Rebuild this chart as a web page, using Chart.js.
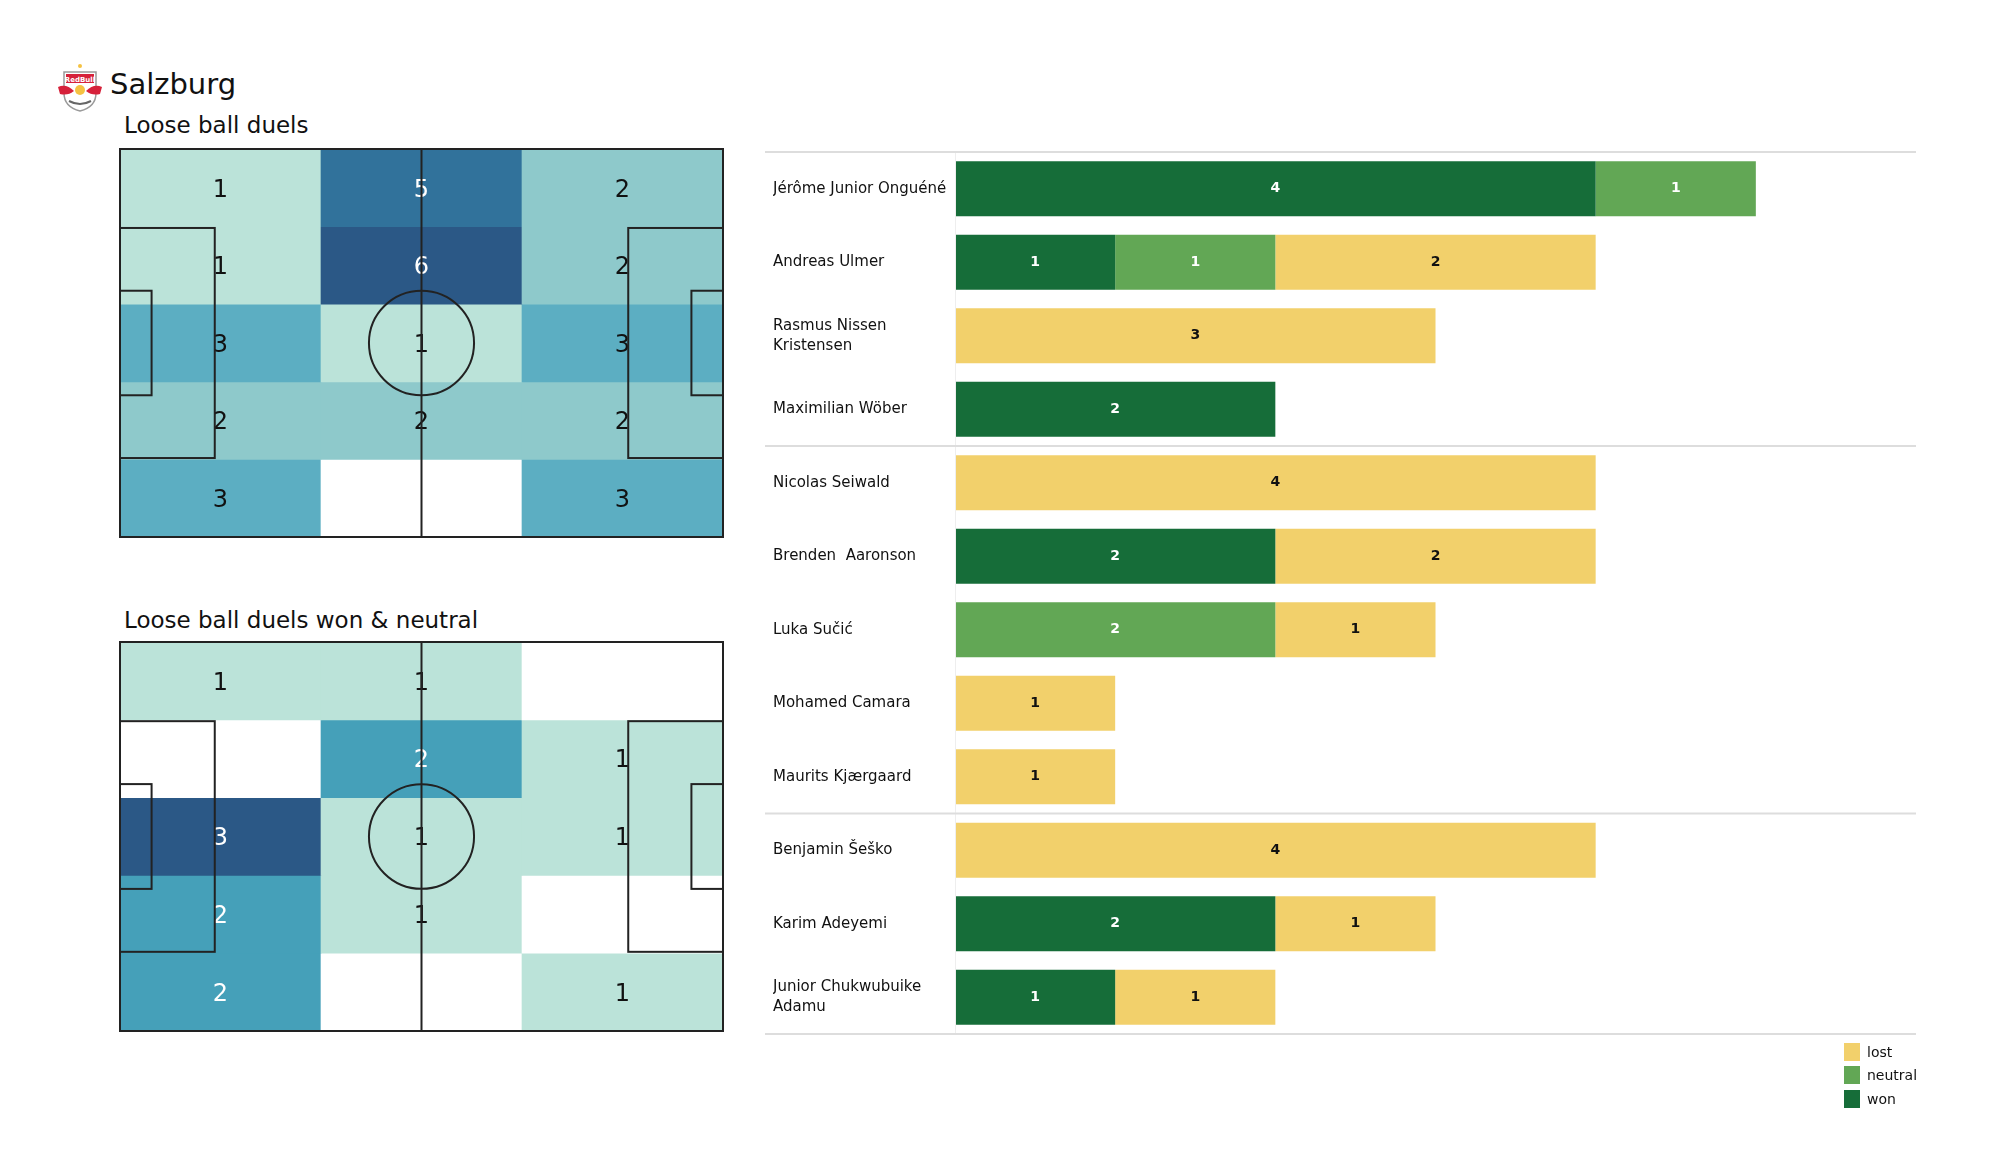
<!DOCTYPE html>
<html>
<head>
<meta charset="utf-8">
<script src="https://cdn.jsdelivr.net/npm/chart.js@4/dist/chart.umd.min.js"></script>
<style>
  body { margin: 0; width: 2000px; height: 1175px; background: #fff; position: relative; overflow: hidden;
         font-family: "DejaVu Sans", sans-serif; color: #111; }
  .abs { position: absolute; }
  .title { font-size: 23px; line-height: 1; }
  .legend div { height: 23.5px; display: flex; align-items: center; font-size: 14px; }
  .legend span { display: inline-block; width: 16px; height: 18px; margin-right: 7px; }
</style>
</head>
<body>

<svg class="abs" style="left:56px;top:63px" width="48" height="50" viewBox="0 0 48 50">
  <circle cx="24" cy="3" r="2" fill="#f5c242"/>
  <path d="M8 9 H40 V30 Q40 44 24 48 Q8 44 8 30 Z" fill="#fff" stroke="#9a9a9a" stroke-width="1.5"/>
  <rect x="10" y="11" width="28" height="9" fill="#d6213a"/>
  <text x="24" y="18.5" font-size="7" font-weight="bold" text-anchor="middle" fill="#fff" font-family="DejaVu Sans">RedBull</text>
  <circle cx="24" cy="27" r="5" fill="#f5c242"/>
  <path d="M2 24 Q10 20 18 28 Q12 33 4 31 Z" fill="#d6213a"/>
  <path d="M46 24 Q38 20 30 28 Q36 33 44 31 Z" fill="#d6213a"/>
  <path d="M13 38 Q24 44 35 38" fill="none" stroke="#666" stroke-width="2"/>
</svg>
<div class="abs" style="left:110px;top:70px;font-size:29px;line-height:1">Salzburg</div>

<div class="abs title" style="left:124px;top:114px">Loose ball duels</div>
<canvas id="pitch1" class="abs" style="left:110px;top:139px" width="623" height="408"></canvas>

<div class="abs title" style="left:124px;top:609px">Loose ball duels won &amp; neutral</div>
<canvas id="pitch2" class="abs" style="left:110px;top:632px" width="623" height="409"></canvas>

<canvas id="bars" class="abs" style="left:765px;top:142px" width="1151" height="902"></canvas>
<div id="legend" class="abs legend" style="left:1844px;top:1040px"></div>

<script>
// loose ball duels per zone, rows top to bottom, columns left to right
const duelsAll = [
  [1, 5, 2],
  [1, 6, 2],
  [3, 1, 3],
  [2, 2, 2],
  [3, 0, 3]
];
const duelsWonNeutral = [
  [1, 1, 0],
  [0, 2, 1],
  [3, 1, 1],
  [2, 1, 0],
  [2, 0, 1]
];
const zoneColumns = ['left', 'middle', 'right'];

// players, grouped defenders / midfielders / forwards
const players = [
  'Jérôme Junior Onguéné', 'Andreas Ulmer', ['Rasmus Nissen', 'Kristensen'], 'Maximilian Wöber',
  'Nicolas Seiwald', 'Brenden  Aaronson', 'Luka Sučić', 'Mohamed Camara', 'Maurits Kjærgaard',
  'Benjamin Šeško', 'Karim Adeyemi', ['Junior Chukwubuike', 'Adamu']
];
const won     = [4, 1, 0, 2, 0, 2, 0, 0, 0, 0, 2, 1];
const neutral = [1, 1, 0, 0, 0, 0, 2, 0, 0, 0, 0, 0];
const lost    = [0, 2, 3, 0, 4, 2, 1, 1, 1, 4, 1, 1];
const groupEnds = [3, 8];

const FONT = 'DejaVu Sans';

// light mint -> dark blue, like the reference colormap
const stops = [
  [0.0, [187, 227, 217]],
  [0.2, [142, 201, 203]],
  [0.4, [92, 174, 194]],
  [0.5, [69, 160, 185]],
  [0.8, [49, 114, 155]],
  [1.0, [43, 88, 134]]
];
function cmap(t) {
  for (let i = 1; i < stops.length; i++) {
    if (t <= stops[i][0]) {
      const [t0, c0] = stops[i - 1], [t1, c1] = stops[i];
      const f = (t - t0) / (t1 - t0);
      const c = c0.map((v, k) => Math.round(v + (c1[k] - v) * f));
      return `rgb(${c.join(',')})`;
    }
  }
  return 'rgb(43,88,134)';
}

const pitchDraw = {
  id: 'pitchDraw',
  afterDatasetsDraw(chart) {
    const { ctx, chartArea: a } = chart;
    const y = chart.scales.y;
    const px = v => a.left + v / 105 * (a.right - a.left);
    const py = v => y.getPixelForValue(v);

    // counts
    ctx.save();
    ctx.font = `24px "${FONT}"`;
    ctx.textAlign = 'center';
    ctx.textBaseline = 'alphabetic';
    chart.data.datasets.forEach((ds, i) => {
      chart.getDatasetMeta(i).data.forEach((bar, j) => {
        const v = ds.counts[j];
        if (!v) return;
        ctx.fillStyle = ds.norm[j] > 0.45 ? '#ffffff' : '#111111';
        ctx.fillText(String(v), bar.x, (bar.y + bar.base) / 2 + 8.7);
      });
    });

    // pitch markings
    ctx.strokeStyle = '#222';
    ctx.lineWidth = 2;
    const rect = (x0, y0, x1, y1) => ctx.strokeRect(px(x0), py(y0), px(x1) - px(x0), py(y1) - py(y0));
    rect(0, 0, 105, 68);
    rect(0, 13.84, 16.5, 54.16);
    rect(88.5, 13.84, 105, 54.16);
    rect(0, 24.84, 5.5, 43.16);
    rect(99.5, 24.84, 105, 43.16);
    ctx.beginPath();
    ctx.moveTo(px(52.5), py(0));
    ctx.lineTo(px(52.5), py(68));
    ctx.stroke();
    ctx.beginPath();
    ctx.ellipse(px(52.5), py(34), px(9.15) - px(0), py(9.15) - py(0), 0, 0, Math.PI * 2);
    ctx.stroke();
    ctx.restore();
  }
};

function makePitch(id, grid) {
  const flat = grid.flat().filter(v => v > 0);
  const lo = Math.min(...flat), hi = Math.max(...flat);
  const rowH = 68 / grid.length;
  const datasets = grid.map((row, r) => {
    const norm = row.map(v => (v - lo) / (hi - lo));
    return {
      data: row.map(() => [r * rowH, (r + 1) * rowH]),
      counts: row,
      norm: norm,
      backgroundColor: row.map((v, j) => v > 0 ? cmap(norm[j]) : '#ffffff'),
      borderWidth: 0,
      categoryPercentage: 1,
      barPercentage: 1,
      grouped: false
    };
  });
  return new Chart(document.getElementById(id), {
    type: 'bar',
    data: { labels: zoneColumns, datasets: datasets },
    options: {
      responsive: false,
      animation: false,
      layout: { padding: 10 },
      scales: {
        x: { display: false },
        y: { display: false, min: 0, max: 68, reverse: true }
      },
      plugins: { legend: { display: false }, tooltip: { enabled: false } }
    },
    plugins: [pitchDraw]
  });
}

makePitch('pitch1', duelsAll);
makePitch('pitch2', duelsWonNeutral);

const barDecor = {
  id: 'barDecor',
  afterDatasetsDraw(chart) {
    const { ctx, chartArea: a, scales: { y } } = chart;
    ctx.save();
    // y axis line
    ctx.strokeStyle = '#eeeeee';
    ctx.lineWidth = 1;
    ctx.beginPath();
    ctx.moveTo(a.left + 0.5, a.top);
    ctx.lineTo(a.left + 0.5, a.bottom);
    ctx.stroke();
    // group separators
    ctx.strokeStyle = '#dddddd';
    ctx.lineWidth = 2;
    const lines = [a.top, a.bottom].concat(groupEnds.map(i =>
      (y.getPixelForValue(i) + y.getPixelForValue(i + 1)) / 2));
    lines.forEach(yy => {
      ctx.beginPath();
      ctx.moveTo(0, yy);
      ctx.lineTo(a.right, yy);
      ctx.stroke();
    });
    // segment values
    ctx.font = `bold 14px "${FONT}"`;
    ctx.textAlign = 'center';
    ctx.textBaseline = 'middle';
    chart.data.datasets.forEach((ds, i) => {
      chart.getDatasetMeta(i).data.forEach((bar, j) => {
        const v = ds.data[j];
        if (!v) return;
        ctx.fillStyle = ds.labelColor;
        ctx.fillText(String(v), (bar.x + bar.base) / 2, bar.y);
      });
    });
    ctx.restore();
  }
};

const barChart = new Chart(document.getElementById('bars'), {
  type: 'bar',
  data: {
    labels: players,
    datasets: [
      { label: 'won', data: won, backgroundColor: '#166d39', labelColor: '#ffffff' },
      { label: 'neutral', data: neutral, backgroundColor: '#62a755', labelColor: '#ffffff' },
      { label: 'lost', data: lost, backgroundColor: '#f2d06b', labelColor: '#111111' }
    ]
  },
  options: {
    indexAxis: 'y',
    responsive: false,
    animation: false,
    layout: { padding: { left: 8, top: 10, bottom: 10, right: 0 } },
    datasets: { bar: { categoryPercentage: 1, barPercentage: 0.75, borderWidth: 0 } },
    scales: {
      x: { stacked: true, min: 0, max: 6, display: false },
      y: {
        stacked: true,
        grid: { display: false },
        border: { display: false },
        ticks: { crossAlign: 'far', padding: 0, color: '#111',
                 font: { family: FONT, size: 15, lineHeight: 1.33 } },
        afterFit(scale) {
          scale.width = 182;
          scale.paddingTop = 0;
          scale.paddingBottom = 0;
        }
      }
    },
    plugins: { legend: { display: false }, tooltip: { enabled: false } }
  },
  plugins: [barDecor]
});

// legend, reversed like the reference
const legend = document.getElementById('legend');
barChart.data.datasets.slice().reverse().forEach(ds => {
  const row = document.createElement('div');
  row.innerHTML = `<span style="background:${ds.backgroundColor}"></span>${ds.label}`;
  legend.appendChild(row);
});
</script>
</body>
</html>
